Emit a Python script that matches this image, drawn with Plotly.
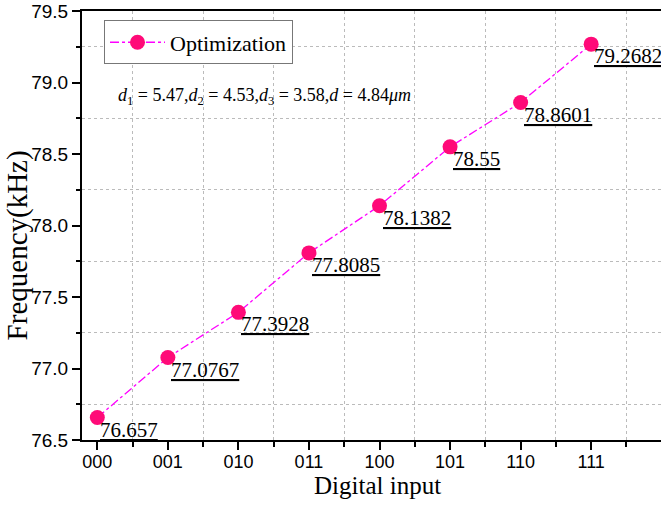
import plotly.graph_objects as go

# Digital input codes and measured frequency (kHz)
codes = ["000", "001", "010", "011", "100", "101", "110", "111"]
freq = [76.657, 77.0767, 77.3928, 77.8085, 78.1382, 78.55, 78.8601, 79.2682]
labels = ["76.657", "77.0767", "77.3928", "77.8085", "78.1382", "78.55", "78.8601", "79.2682"]

xpos = list(range(len(codes)))

fig = go.Figure()
fig.add_trace(go.Scatter(
    x=xpos, y=freq, mode="lines+markers", name="Optimization",
    line=dict(color="#FF00FF", width=1.3, dash="dashdot"),
    marker=dict(color="#FF0A78", size=15),
    cliponaxis=False,
))

# Underlined value labels beside each point
for xi, yi, lab in zip(xpos, freq, labels):
    fig.add_annotation(
        x=xi, y=yi, text="<u>" + lab + "</u>", showarrow=False,
        xanchor="left", yanchor="top", xshift=1, yshift=2,
        font=dict(family="Liberation Serif", size=21, color="black"),
    )

fig.add_annotation(
    xref="paper", yref="paper", x=0.058, y=0.80, xanchor="left", yanchor="middle",
    text="<i>d</i><sub>1</sub> = 5.47,<i>d</i><sub>2</sub> = 4.53,<i>d</i><sub>3</sub> = 3.58,<i>d</i> = 4.84<i>μm</i>",
    showarrow=False, font=dict(family="Liberation Serif", size=18, color="black"),
)

# Axis titles
fig.add_annotation(
    xref="paper", yref="paper", x=0.51, y=-0.106, xanchor="center", yanchor="middle",
    text="Digital input", showarrow=False,
    font=dict(family="Liberation Serif", size=25, color="black"),
)
fig.add_annotation(
    xref="paper", yref="paper", x=-0.111, y=0.453, xanchor="center", yanchor="middle",
    text="Frequency(kHz)", textangle=-90, showarrow=False,
    font=dict(family="Liberation Serif", size=29, color="black"),
)

axis_common = dict(
    showline=True, linecolor="black", linewidth=2,
    ticks="outside", ticklen=8, tickwidth=2, tickcolor="black",
    showgrid=False, zeroline=False,
)

fig.update_xaxes(
    **axis_common,
    mirror=True,
    range=[-0.217, 7.99],
    tickmode="array", tickvals=xpos, ticktext=codes,
    ticklabelstandoff=-4,
    tickfont=dict(family="Liberation Sans", size=18, color="black"),
    minor=dict(tick0=0.5, dtick=1, ticks="outside", ticklen=5, tickwidth=2,
               tickcolor="black", showgrid=True, gridcolor="#BBBBBB",
               griddash="3px,3px", gridwidth=1),
)
fig.update_yaxes(
    **axis_common,
    mirror=False,
    range=[76.5, 79.5], dtick=0.5, tick0=76.5, tickformat=".1f",
    tickfont=dict(family="Liberation Sans", size=19, color="black"),
    minor=dict(tick0=76.75, dtick=0.5, ticks="outside", ticklen=4, tickwidth=2,
               tickcolor="black", showgrid=True, gridcolor="#BBBBBB",
               griddash="3px,3px", gridwidth=1),
)

fig.update_layout(
    width=661, height=510,
    margin=dict(l=82, r=0, t=11, b=70),
    paper_bgcolor="white", plot_bgcolor="white",
    showlegend=True,
    legend=dict(
        x=0.038, y=0.978, xanchor="left", yanchor="top",
        bordercolor="#777777", borderwidth=1, bgcolor="white",
        font=dict(family="Liberation Serif", size=22, color="black"),
        itemwidth=55, tracegroupgap=0,
    ),
)

fig.write_html("out.html")
